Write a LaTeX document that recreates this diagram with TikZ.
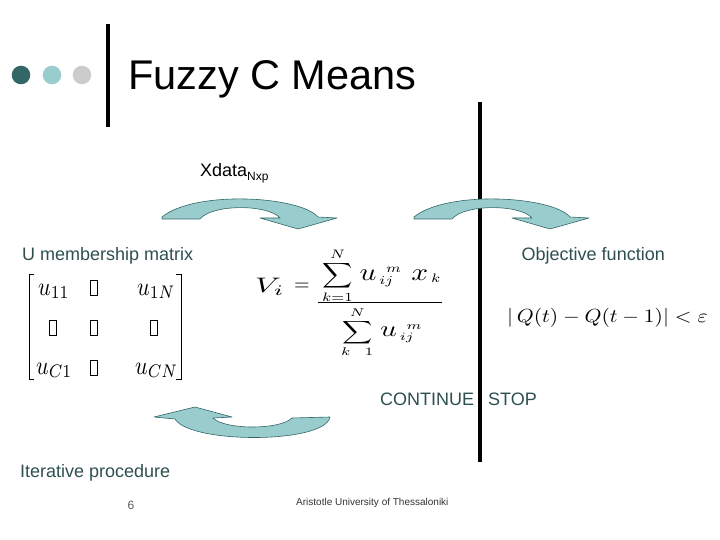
\documentclass[tikz,border=0pt]{standalone}
\usepackage{fix-cm}
\usepackage{amsmath,amssymb}
\usepackage{graphicx}
\usepackage{fontspec}
\setmainfont{Liberation Sans}
\usepackage{xcolor}
\usepackage{tikz}

\definecolor{tealdark}{HTML}{336666}
\definecolor{teallight}{HTML}{99CCCC}
\definecolor{dotgray}{HTML}{CCCCCC}
\definecolor{slatetext}{HTML}{2F4F4F}

\begin{document}
\begin{tikzpicture}[x=1pt, y=-1pt, >=stealth,
  lbl/.style={text=slatetext, font=\fontsize{18}{21}\selectfont, inner sep=0pt},
  entry/.style={anchor=base west, inner sep=0pt},
  bentarrow/.style={fill=teallight, draw=tealdark, line width=0.6pt, line join=round}]
  \useasboundingbox (0,0) rectangle (720,540);

  % Title bullets and bar
  \fill[tealdark] (21,75) circle (9.3);
  \fill[teallight] (52,75) circle (9.3);
  \fill[dotgray] (82,75) circle (9.3);
  \draw[line width=4pt] (108,24) -- (108,127);
  \node[anchor=base west, inner sep=0pt, font=\fontsize{41.5}{48}\selectfont] (title) at (128,90) {Fuzzy C Means};

  % Separator line between CONTINUE and STOP
  \draw[line width=4pt] (480,102) -- (480,462);

  % Input data
  \node[anchor=base west, inner sep=0pt, font=\fontsize{18}{21}\selectfont] (xdata) at (200,177)
    {Xdata{\fontsize{12}{14}\selectfont\raisebox{-4pt}{Nxp}}};

  % Curved block arrows (top two point right)
  \draw[bentarrow] (162,219) -- (200,219) .. controls (212,204) and (268,204) .. (280,218)
    -- (260,218) -- (298,229) -- (337,218) -- (318,217)
    .. controls (300,196) and (195,190) .. (162,217) -- cycle;
  \begin{scope}[xshift=252pt]
    \draw[bentarrow] (162,219) -- (200,219) .. controls (212,204) and (268,204) .. (280,218)
      -- (260,218) -- (298,229) -- (337,218) -- (318,217)
      .. controls (300,196) and (195,190) .. (162,217) -- cycle;
  \end{scope}
  % bottom arrow points back left
  \draw[bentarrow] (154,417) -- (195,407) -- (232,417) -- (213,418)
    .. controls (225,430) and (280,430) .. (292,418) -- (330,417)
    .. controls (325,444) and (190,444) .. (175,419) -- cycle;

  % Labels
  \node[lbl, anchor=base west] (umat) at (22,260) {U membership matrix};
  \node[lbl, anchor=base east] (objf) at (665,260) {Objective function};
  \node[lbl, anchor=base west] (cont) at (380,405) {CONTINUE};
  \node[lbl, anchor=base west] (stop) at (488,405) {STOP};
  \node[lbl, anchor=base west] (iter) at (20,477) {Iterative procedure};

  % Membership matrix
  \draw[line width=0.8pt] (34,274) -- (29,274) -- (29,379) -- (34,379);
  \draw[line width=0.8pt] (176,274) -- (181,274) -- (181,379) -- (176,379);
  \node[entry] (u11) at (38,295) {\scalebox{2.2}[2.6]{$u_{11}$}};
  \node[entry] (u1n) at (137,295) {\scalebox{2.2}[2.6]{$u_{1N}$}};
  \node[entry] (uc1) at (36,374) {\scalebox{2.2}[2.6]{$u_{C1}$}};
  \node[entry] (ucn) at (135,374) {\scalebox{2.2}[2.6]{$u_{CN}$}};
  \draw[line width=0.7pt] (90,280) rectangle (97,295);
  \draw[line width=0.7pt] (49,320) rectangle (56,335);
  \draw[line width=0.7pt] (90,320) rectangle (97,335);
  \draw[line width=0.7pt] (150,320) rectangle (157,335);
  \draw[line width=0.7pt] (90,360) rectangle (97,375);

  % Cluster centre formula
  \node[anchor=base west, inner sep=0pt] (vi) at (255,292) {\scalebox{3.2}[2.1]{$V_{i}$}};
  \node[inner sep=0pt] (eqsign) at (302,287) {\scalebox{2}{$=$}};
  \node[anchor=north west, inner sep=0pt] (numer) at (322,248)
    {\scalebox{2.1}[1.75]{$\displaystyle\sum_{k=1}^{N}\, \mathord{\scalebox{1.4}{$u$}}_{\,ij}^{\;\;m}\;\, \mathord{\scalebox{1.4}{$x$}}_{\,k}$}};
  \node[anchor=north west, inner sep=0pt] (denom) at (341,307)
    {\scalebox{2.1}[1.6]{$\displaystyle\sum_{k\;\;\;1}^{N}\, \mathord{\scalebox{1.4}{$u$}}_{\,ij}^{\;\;m}$}};
  \draw[line width=0.8pt] (318,302) -- (442,302);

  % Stopping criterion
  \node[anchor=west, inner sep=0pt] (qcrit) at (507,318)
    {\scalebox{2.15}[1.9]{$|\,Q(t)-Q(t-1)| < \varepsilon$}};

  % Footer
  \node[anchor=base, inner sep=0pt, text=black!65, font=\fontsize{12}{14}\selectfont] (pagenum) at (131,509) {6};
  \node[anchor=base west, inner sep=0pt, text=black!80, font=\fontsize{10}{12}\selectfont] (univ) at (296,505)
    {Aristotle University of Thessaloniki};
\end{tikzpicture}
\end{document}
